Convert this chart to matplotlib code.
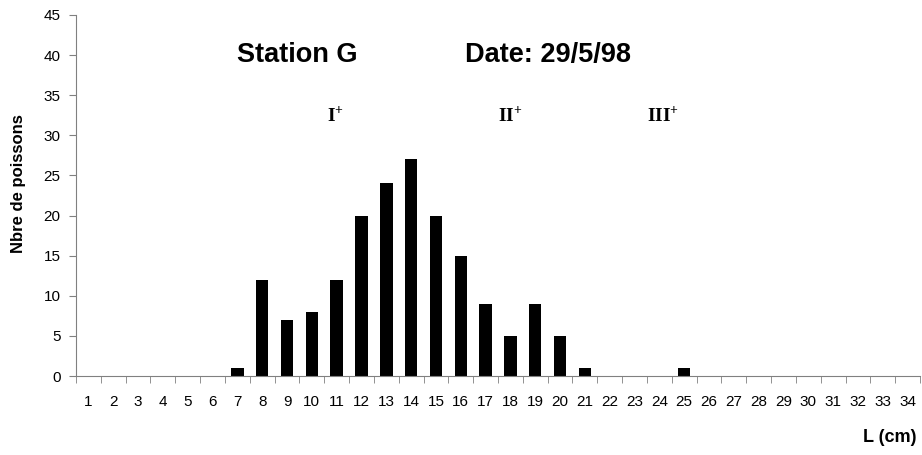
import numpy as np
import matplotlib
matplotlib.use("Agg")
import matplotlib.pyplot as plt

# Données: classes de longueur (cm) et effectifs
longueurs = list(range(1, 35))
effectifs = [0, 0, 0, 0, 0, 0, 1, 12, 7, 8, 12, 20, 24, 27, 20, 15, 9, 5, 9, 5,
             1, 0, 0, 0, 1, 0, 0, 0, 0, 0, 0, 0, 0, 0]
yticks = list(range(0, 50, 5))

# Cohortes annotées (label, position de la classe)
cohortes = ["I", "II", "III"]
cohortes_x = [9.61, 16.5, 22.5]

plt.rcParams["font.family"] = ["Liberation Sans", "DejaVu Sans"]
plt.rcParams["mathtext.fontset"] = "custom"
plt.rcParams["mathtext.bf"] = "Liberation Serif:bold"
plt.rcParams["mathtext.rm"] = "Liberation Serif"

fig = plt.figure(figsize=(9.22, 4.55), dpi=100)
ax = fig.add_axes([76 / 922, 79 / 455, 844 / 922, 361 / 455])

x = np.arange(len(longueurs))
ax.bar(x, effectifs, width=0.5, color="black")

ax.set_xlim(-0.5, len(longueurs) - 0.5)
ax.set_ylim(0, 45)
ax.set_yticks(yticks)
ax.set_xticks(x)
ax.set_xticklabels([str(v) for v in longueurs])
ax.set_xticks(np.arange(-0.5, len(longueurs)), minor=True)
ax.tick_params(axis="x", which="major", length=0, pad=14, labelsize=11)
ax.tick_params(axis="x", which="minor", length=5, color="#808080", direction="out")
ax.tick_params(axis="y", length=5, color="#808080", pad=6, labelsize=11)

for s in ["top", "right"]:
    ax.spines[s].set_visible(False)
for s in ["left", "bottom"]:
    ax.spines[s].set_color("#808080")

fig.text(18 / 922, 1 - 184 / 455, "Nbre de poissons", rotation=90, fontsize=12,
         fontweight="bold", ha="center", va="center")
fig.text(916 / 922, 1 - 438 / 455, "L (cm)", fontsize=13, fontweight="bold",
         ha="right", va="center")

ax.text(5.99, 39.1, "Station G", fontsize=19.5, fontweight="bold", va="baseline")
ax.text(15.17, 39.1, "Date: 29/5/98", fontsize=19.5, fontweight="bold", va="baseline")

for lab, xc in zip(cohortes, cohortes_x):
    ax.text(xc, 31.7, r"$\mathbf{%s}^{\mathbf{+}}$" % lab, fontsize=14,
            va="baseline", ha="left")

fig.savefig("out.png", dpi=100)
